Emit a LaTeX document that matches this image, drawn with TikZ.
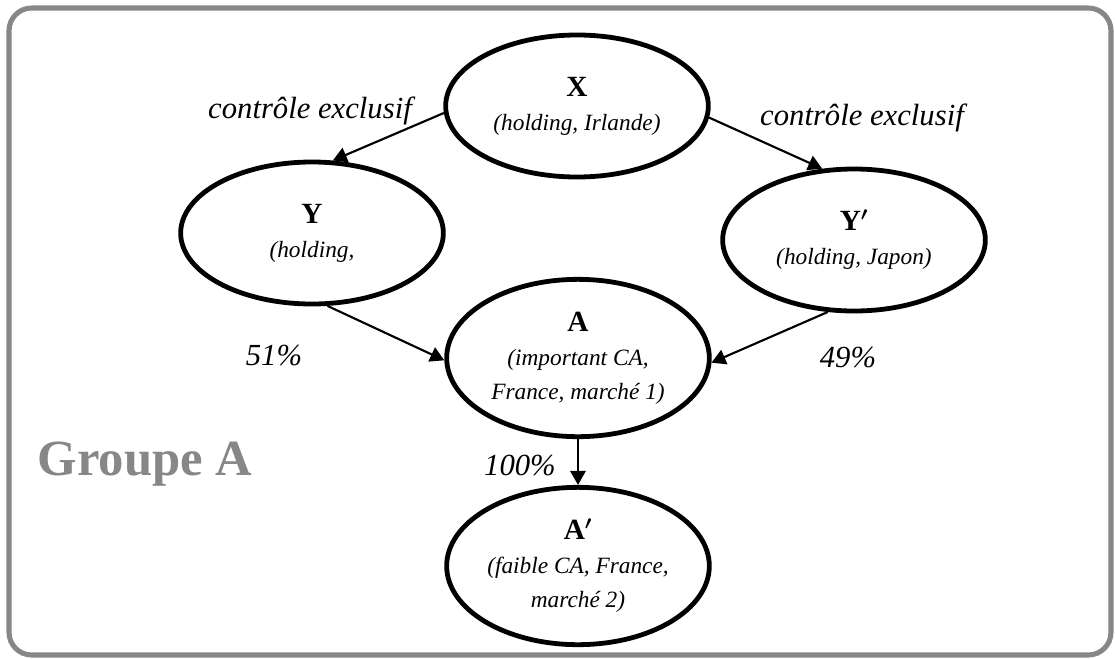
\documentclass[tikz,border=0pt]{standalone}
\usepackage{fontspec}
\setmainfont{Liberation Serif}
\usetikzlibrary{shapes.geometric,arrows.meta}

\definecolor{cadre}{RGB}{135,135,135}
\newcommand{\bigletter}{\fontsize{22}{26}\selectfont\bfseries\upshape\boldmath}

\tikzset{
  firm/.style={ellipse, draw, line width=3.6pt, minimum width=197pt, minimum height=106.5pt,
    inner sep=0pt, align=center, font=\fontsize{17.5}{25.5}\selectfont\itshape},
  tall/.style={minimum height=118pt},
  link/.style={-{Triangle[length=10.5pt,width=11.5pt]}, line width=1.6pt},
  lbl/.style={font=\fontsize{23}{26}\selectfont\itshape},
}

\begin{document}
\begin{tikzpicture}[x=0.75pt,y=-0.75pt]
  \useasboundingbox (0,0) rectangle (1115,658);
  \draw[cadre, line width=3.8pt, rounded corners=17pt] (9,8) rectangle (1111,655);

  % entreprises
  \node[firm] (X) at (577,106) {{\bigletter X}\\(holding, Irlande)};
  \node[firm] (Y) at (312,233) {{\bigletter Y}\\(holding,};
  \node[firm] (Yp) at (854,240) {{\bigletter Y$'$}\\(holding, Japon)};
  \node[firm, tall] (A) at (578,358) {{\bigletter A}\\(important CA,\\France, marché 1)};
  \node[firm, tall] (Ap) at (578,566) {{\bigletter A$'$}\\(faible CA, France,\\marché 2)};

  % liens
  \draw[link] (X.183) -- (Y.74);
  \draw[link] (X.-5) -- (Yp.114);
  \draw[link] (Y.-78) -- (A.181);
  \draw[link] (Yp.-110) -- (A.-2);
  \draw[link] (A.south) -- (Ap.north);

  \node[lbl] (cXY) at (310,111) {contrôle exclusif};
  \node[lbl] (cXYp) at (862,118) {contrôle exclusif};
  \node[lbl] (pYA) at (274,355) {51\%};
  \node[lbl] (pYpA) at (848,357) {49\%};
  \node[lbl] (pAAp) at (520,465) {100\%};

  \node[cadre, font=\fontsize{38}{42}\selectfont\bfseries] (grp) at (145,464) {Groupe A};
\end{tikzpicture}
\end{document}
